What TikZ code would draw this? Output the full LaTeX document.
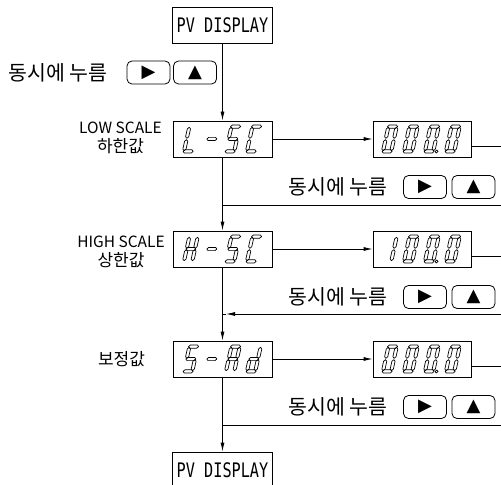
\documentclass[tikz,border=0pt]{standalone}
\usepackage{fontspec}
\usepackage{graphicx}
\usetikzlibrary{arrows.meta}
\newfontfamily\korfont{Noto Sans CJK KR}
\newfontfamily\symfont{DejaVu Sans}
\newfontfamily\monofont{DejaVu Sans Mono}
% seven-segment pieces (local units, v upward, cell width 11.5, height 28)
\newcommand\segA{\draw[segln] (0.7,26.4)--(2.3,28)--(9.2,28)--(10.8,26.4)--(9.2,24.8)--(2.3,24.8)--cycle;}
\newcommand\segG{\draw[segln] (0.7,14)--(2.3,15.6)--(9.2,15.6)--(10.8,14)--(9.2,12.4)--(2.3,12.4)--cycle;}
\newcommand\segD{\draw[segln] (0.7,1.6)--(2.3,3.2)--(9.2,3.2)--(10.8,1.6)--(9.2,0)--(2.3,0)--cycle;}
\newcommand\segF{\draw[segln] (1.6,14.7)--(3.2,16.3)--(3.2,24.1)--(1.6,25.7)--(0,24.1)--(0,16.3)--cycle;}
\newcommand\segE{\draw[segln] (1.6,2.3)--(3.2,3.9)--(3.2,11.7)--(1.6,13.3)--(0,11.7)--(0,3.9)--cycle;}
\newcommand\segB{\draw[segln] (9.9,14.7)--(11.5,16.3)--(11.5,24.1)--(9.9,25.7)--(8.3,24.1)--(8.3,16.3)--cycle;}
\newcommand\segC{\draw[segln] (9.9,2.3)--(11.5,3.9)--(11.5,11.7)--(9.9,13.3)--(8.3,11.7)--(8.3,3.9)--cycle;}
\newcommand\segP{\draw[segln] (13.2,1.5) circle (1.5);}
% #1 x, #2 y of the bottom-left corner (picture coordinates), #3 segments
\newcommand\sevseg[3]{%
  \begin{scope}[shift={(#1,#2)},cm={1,0,-0.22,-1,(0,0)}]
    \foreach \s in {#3}{\csname seg\s\endcsname}
  \end{scope}}
\begin{document}
\begin{tikzpicture}[x=1bp,y=-1bp,
  segln/.style={line width=0.7bp,line join=round},
  conn/.style={line width=0.8bp},
  arr/.style={line width=0.8bp,-{Latex[length=9bp,width=4bp]}},
  pvbox/.style={draw,line width=0.8bp,minimum width=100bp,minimum height=36bp,inner sep=0pt,
     font=\monofont\fontsize{20bp}{24bp}\selectfont},
  dispbox/.style={draw,line width=0.8bp,minimum width=99bp,minimum height=36bp,inner sep=0pt},
  kor/.style={font=\korfont\fontsize{20.5bp}{24bp}\selectfont,inner sep=0pt},
  lbl/.style={font=\korfont\fontsize{15.5bp}{19bp}\selectfont,align=center,inner sep=0pt},
  btn/.style={draw,line width=0.8bp,rounded corners=5bp,minimum width=43bp,minimum height=23bp,
     inner sep=0pt,font=\symfont\fontsize{18bp}{20bp}\selectfont}]
\useasboundingbox (0,0) rectangle (501,485);
\clip (0,0) rectangle (501,485);

% main column
\node[pvbox] (pv1) at (222.5,25) {\scalebox{0.76}[1]{PV DISPLAY}};
\node[dispbox] (lsc) at (222.5,139) {};
\node[dispbox] (hsc) at (222.5,249) {};
\node[dispbox] (sad) at (222.5,359) {};
\node[pvbox] (pv2) at (222.5,470) {\scalebox{0.76}[1]{PV DISPLAY}};

% value boxes
\node[dispbox,minimum width=98bp] (lval) at (422,139) {};
\node[dispbox,minimum width=98bp] (hval) at (422,249) {};
\node[dispbox,minimum width=98bp] (sval) at (422,359) {};

% seven-segment glyphs
\sevseg{182}{153}{F,E,D}
\sevseg{203}{153}{G}
\sevseg{224}{153}{A,F,G,C,D}
\sevseg{245}{153}{A,F,E,D}
\sevseg{182}{263}{B,C,E,F,G}
\sevseg{203}{263}{G}
\sevseg{224}{263}{A,F,G,C,D}
\sevseg{245}{263}{A,F,E,D}
\sevseg{182}{373}{A,F,G,C,D}
\sevseg{203}{373}{G}
\sevseg{224}{373}{A,B,C,E,F,G}
\sevseg{245}{373}{B,C,D,E,G}
\sevseg{381}{153}{A,B,C,D,E,F}
\sevseg{402}{153}{A,B,C,D,E,F}
\sevseg{423}{153}{A,B,C,D,E,F,P}
\sevseg{444}{153}{A,B,C,D,E,F}
\sevseg{381}{263}{B,C}
\sevseg{402}{263}{A,B,C,D,E,F}
\sevseg{423}{263}{A,B,C,D,E,F,P}
\sevseg{444}{263}{A,B,C,D,E,F}
\sevseg{381}{373}{A,B,C,D,E,F}
\sevseg{402}{373}{A,B,C,D,E,F}
\sevseg{423}{373}{A,B,C,D,E,F,P}
\sevseg{444}{373}{A,B,C,D,E,F}

% side labels
\node[lbl] (lowl) at (120.5,137.5) {LOW SCALE\\{\fontsize{17bp}{19bp}\selectfont 하한값}};
\node[lbl] (highl) at (121,251.5) {HIGH SCALE\\{\fontsize{17bp}{19bp}\selectfont 상한값}};
\node[lbl,font=\korfont\fontsize{17bp}{19bp}\selectfont] (adjl) at (121.5,359) {보정값};

% key hints
\node[kor] (t0) at (58,72.5) {동시에 누름};
\node[btn] (b0r) at (148.5,72.5) {▶};
\node[btn] (b0u) at (195,72.5) {▲};
\node[kor] (t1) at (338,187) {동시에 누름};
\node[btn] (b1r) at (425,187) {▶};
\node[btn] (b1u) at (473.5,187) {▲};
\node[kor] (t2) at (338,297) {동시에 누름};
\node[btn] (b2r) at (425,297) {▶};
\node[btn] (b2u) at (473.5,297) {▲};
\node[kor] (t3) at (338,407) {동시에 누름};
\node[btn] (b3r) at (425,407) {▶};
\node[btn] (b3u) at (473.5,407) {▲};

% coordinates for free ends
\coordinate (r1) at (501,146);
\coordinate (r2) at (501,256);
\coordinate (r3) at (501,366);
\coordinate (j1r) at (501,205);
\coordinate (j2r) at (501,314);
\coordinate (j3r) at (501,425);
\coordinate (j1) at (222.5,205);
\coordinate (j2) at (222.5,314);
\coordinate (j2a) at (226,314);
\coordinate (j3) at (222.5,425);

% connectors
\draw[arr] (pv1) -- (lsc);
\draw[arr] (lsc) -- (hsc);
\draw[arr] (hsc) -- (sad);
\draw[arr] (sad) -- (pv2);
\draw[arr] (lsc) -- (lval);
\draw[arr] (hsc) -- (hval);
\draw[arr] (sad) -- (sval);
\draw[conn] (lval.east |- r1) -- (r1);
\draw[conn] (hval.east |- r2) -- (r2);
\draw[conn] (sval.east |- r3) -- (r3);
\draw[conn] (j1r) -- (j1);
\draw[arr] (j2r) -- (j2a);
\draw[conn] (j2a) -- (j2);
\draw[conn] (j3r) -- (j3);
\end{tikzpicture}
\end{document}
